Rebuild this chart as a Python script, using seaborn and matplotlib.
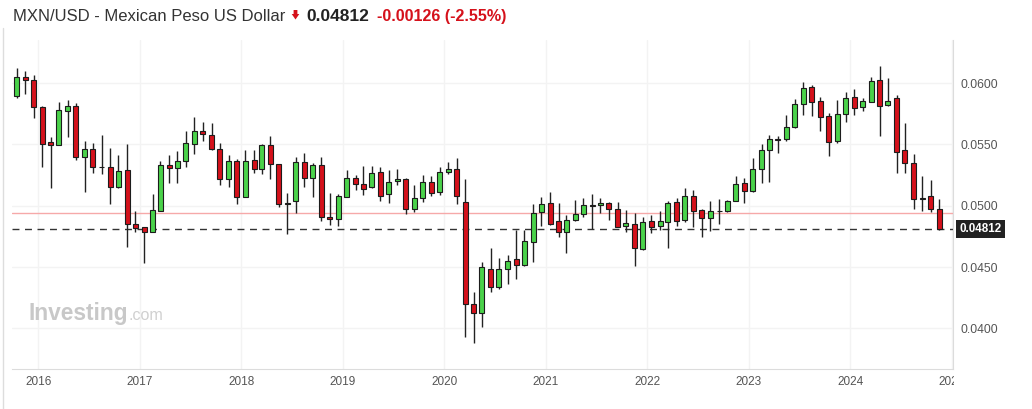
import matplotlib
matplotlib.use("Agg")
import matplotlib.pyplot as plt
import matplotlib.transforms as mtransforms
from matplotlib.patches import Polygon, Rectangle
from matplotlib.lines import Line2D
import pandas as pd
import seaborn as sns

# monthly candles, Oct 2015 .. Nov 2024 (MXN/USD)
first_month = "2015-10-01"
opens = [0.05899, 0.06049, 0.06024, 0.05809, 0.05521, 0.05499, 0.05776, 0.05815, 0.05401, 0.05464,
         0.05320, 0.05314, 0.05151, 0.05292, 0.04849, 0.04824, 0.04789, 0.04960, 0.05331, 0.05306,
         0.05363, 0.05500, 0.05608, 0.05580, 0.05466, 0.05216, 0.05363, 0.05074, 0.05374, 0.05298,
         0.05494, 0.05339, 0.05012, 0.05042, 0.05355, 0.05229, 0.05330, 0.04906, 0.04890, 0.05074,
         0.05224, 0.05176, 0.05151, 0.05273, 0.05094, 0.05200, 0.05216, 0.04976, 0.05061, 0.05192,
         0.05110, 0.05273, 0.05298, 0.05029, 0.04201, 0.04127, 0.04482, 0.04340, 0.04482, 0.04566,
         0.04514, 0.04702, 0.04947, 0.05020, 0.04873, 0.04784, 0.04882, 0.04931, 0.05006, 0.05004,
         0.05020, 0.04971, 0.04838, 0.04849, 0.04647, 0.04873, 0.04837, 0.04870, 0.05029, 0.04884,
         0.05080, 0.04963, 0.04898, 0.04955, 0.04955, 0.05039, 0.05184, 0.05123, 0.05298, 0.05456,
         0.05543, 0.05548, 0.05646, 0.05831, 0.05967, 0.05858, 0.05733, 0.05531, 0.05747, 0.05886,
         0.05804, 0.05850, 0.06027, 0.05823, 0.05878, 0.05456, 0.05352, 0.05058, 0.05080, 0.04976]
highs = [0.06122, 0.06103, 0.06068, 0.05812, 0.05559, 0.05847, 0.05864, 0.05837, 0.05531, 0.05510,
         0.05578, 0.05474, 0.05415, 0.05500, 0.04955, 0.04826, 0.05096, 0.05366, 0.05415, 0.05447,
         0.05613, 0.05722, 0.05684, 0.05673, 0.05510, 0.05412, 0.05380, 0.05456, 0.05456, 0.05504,
         0.05570, 0.05342, 0.05102, 0.05401, 0.05429, 0.05347, 0.05396, 0.05102, 0.05096, 0.05292,
         0.05249, 0.05325, 0.05325, 0.05319, 0.05292, 0.05300, 0.05224, 0.05170, 0.05251, 0.05243,
         0.05314, 0.05357, 0.05388, 0.05219, 0.04294, 0.04541, 0.04653, 0.04571, 0.04598, 0.04802,
         0.04802, 0.05015, 0.05074, 0.05110, 0.05020, 0.04925, 0.05047, 0.05064, 0.05096, 0.05060,
         0.05033, 0.05029, 0.04966, 0.04939, 0.04911, 0.04925, 0.04958, 0.05039, 0.05066, 0.05143,
         0.05129, 0.04971, 0.05039, 0.05055, 0.05047, 0.05243, 0.05224, 0.05388, 0.05504, 0.05576,
         0.05570, 0.05741, 0.05869, 0.06011, 0.05989, 0.05886, 0.05755, 0.05864, 0.05931, 0.05951,
         0.05882, 0.06049, 0.06144, 0.06041, 0.05904, 0.05678, 0.05423, 0.05243, 0.05211, 0.05056]
lows = [0.05878, 0.05910, 0.05719, 0.05314, 0.05143, 0.05495, 0.05564, 0.05374, 0.05115, 0.05270,
        0.05260, 0.05015, 0.05148, 0.04666, 0.04789, 0.04536, 0.04786, 0.04958, 0.05184, 0.05189,
        0.05314, 0.05423, 0.05531, 0.05456, 0.05172, 0.05156, 0.05015, 0.05070, 0.05270, 0.05260,
        0.05221, 0.04988, 0.04767, 0.04939, 0.05156, 0.05074, 0.04878, 0.04843, 0.04838, 0.05070,
        0.05129, 0.05088, 0.05148, 0.05042, 0.05025, 0.05167, 0.04933, 0.04949, 0.05033, 0.05082,
        0.05088, 0.05257, 0.05015, 0.03926, 0.03878, 0.04013, 0.04299, 0.04321, 0.04359, 0.04405,
        0.04510, 0.04544, 0.04835, 0.04840, 0.04748, 0.04617, 0.04878, 0.04911, 0.04811, 0.04939,
        0.04884, 0.04825, 0.04784, 0.04511, 0.04640, 0.04780, 0.04802, 0.04658, 0.04837, 0.04870,
        0.04829, 0.04748, 0.04797, 0.04851, 0.04950, 0.05035, 0.05020, 0.05115, 0.05184, 0.05197,
        0.05429, 0.05531, 0.05633, 0.05741, 0.05736, 0.05610, 0.05407, 0.05515, 0.05687, 0.05741,
        0.05776, 0.05846, 0.05572, 0.05817, 0.05265, 0.05270, 0.04971, 0.04960, 0.04952, 0.04805]
closes = [0.06049, 0.06024, 0.05809, 0.05507, 0.05499, 0.05780, 0.05815, 0.05401, 0.05464, 0.05319,
          0.05314, 0.05151, 0.05287, 0.04851, 0.04816, 0.04789, 0.04963, 0.05331, 0.05306, 0.05363,
          0.05510, 0.05608, 0.05586, 0.05466, 0.05216, 0.05363, 0.05074, 0.05363, 0.05298, 0.05494,
          0.05339, 0.05012, 0.05020, 0.05355, 0.05224, 0.05330, 0.04906, 0.04890, 0.05080, 0.05224,
          0.05176, 0.05135, 0.05265, 0.05082, 0.05192, 0.05216, 0.04971, 0.05061, 0.05192, 0.05102,
          0.05273, 0.05298, 0.05082, 0.04201, 0.04122, 0.04498, 0.04335, 0.04482, 0.04552, 0.04514,
          0.04713, 0.04939, 0.05012, 0.04849, 0.04784, 0.04882, 0.04931, 0.05006, 0.05000, 0.05020,
          0.04971, 0.04829, 0.04857, 0.04653, 0.04865, 0.04829, 0.04876, 0.05025, 0.04878, 0.05080,
          0.04960, 0.04898, 0.04955, 0.04957, 0.05039, 0.05178, 0.05118, 0.05298, 0.05456, 0.05543,
          0.05540, 0.05641, 0.05831, 0.05959, 0.05850, 0.05727, 0.05523, 0.05747, 0.05878, 0.05796,
          0.05855, 0.06021, 0.05817, 0.05855, 0.05442, 0.05352, 0.05058, 0.05066, 0.04976, 0.04812]

last_price = 0.04812
prev_close = 0.04938
change = "-0.00126 (-2.55%)"
y_ticks = [0.0400, 0.0450, 0.0500, 0.0550, 0.0600]
years = list(range(2016, 2026))

UP = "#4ad24a"
DOWN = "#d5111b"

sns.set_style("white")
plt.rcParams["font.family"] = ["Liberation Sans", "DejaVu Sans"]

df = pd.DataFrame({"open": opens, "high": highs, "low": lows, "close": closes})
df["date"] = pd.date_range(first_month, periods=len(df), freq="MS") + pd.Timedelta(days=15)

W, H = 1032, 409
fig = plt.figure(figsize=(W / 100, H / 100), dpi=100)
ax = fig.add_axes([12.3 / W, 1 - 369.3 / H, (953.3 - 12.3) / W, (369.3 - 40) / H])

# candles
body = (df["close"] - df["open"]).where(lambda s: s.abs() > 0.00001, 0.00001)
colors = [UP if c >= o else DOWN for o, c in zip(df["open"], df["close"])]
ax.vlines(df["date"], df["low"], df["high"], color="#222222", lw=1, zorder=3)
ax.bar(df["date"], body, bottom=df["open"], width=18, color=colors,
       edgecolor="#1c1c1c", linewidth=0.8, zorder=4)

# previous close and last price lines
ax.axhline(prev_close, color="#f6a9a9", lw=1, zorder=2)
ax.axhline(last_price, color="#333333", lw=1, ls=(0, (5, 4)), zorder=2)

ax.set_xlim(pd.Timestamp("2015-09-30"), pd.Timestamp("2025-01-06"))
ax.set_ylim(0.03665, 0.06353)

ax.set_xticks([pd.Timestamp(f"{y}-01-01") for y in years])
ax.set_xticklabels([str(y) for y in years])
ax.yaxis.tick_right()
ax.set_yticks(y_ticks)
ax.set_yticklabels([f"{v:.4f}" for v in y_ticks])
ax.tick_params(axis="x", length=0, pad=5, labelsize=8.5, labelcolor="#555555")
ax.tick_params(axis="y", length=0, pad=5, labelsize=8.7, labelcolor="#555555")
ax.grid(True, color="#f3f3f3", lw=1)
ax.set_axisbelow(True)
for side in ["top", "left"]:
    ax.spines[side].set_visible(False)
for side in ["bottom", "right"]:
    ax.spines[side].set_color("#dcdcdc")

# last price tag on the axis
trans = mtransforms.blended_transform_factory(ax.transAxes, ax.transData)
ax.annotate(f"{last_price:.5f}", xy=(1, last_price), xycoords=trans, xytext=(4.5, 0),
            textcoords="offset points", ha="left", va="center", color="white",
            fontsize=8.4, fontweight="bold",
            bbox=dict(boxstyle="square,pad=0.28", fc="#222222", ec="none"), annotation_clip=False)

# hide the tail of the clipped "2025" label
fig.add_artist(Rectangle((954 / W, 0), (W - 954) / W, (H - 371) / H,
                         transform=fig.transFigure, fc="white", ec="none", zorder=5))
fig.add_artist(Line2D([3 / W, 3 / W], [0, 1 - 28 / H], color="#dddddd", lw=1))

# watermark
fig.text(28.5 / W, 1 - 320 / H, "Investing", fontsize=16.4, fontweight="bold",
         color="#c8c8c8", va="baseline")
fig.text(129 / W, 1 - 320 / H, ".com", fontsize=11.6, color="#d0d0d0", va="baseline")

# header
base = 1 - 20.7 / H
fig.text(13.3 / W, base, "MXN/USD - Mexican Peso US Dollar", fontsize=12, color="#333333",
         va="baseline")
arrow = [(293.6, 10), (297.4, 10), (297.4, 14), (299.3, 14), (295.5, 19.5), (291.7, 14), (293.6, 14)]
fig.add_artist(Polygon([(x / W, 1 - y / H) for x, y in arrow], closed=True,
                       transform=fig.transFigure, fc=DOWN, ec="none"))
fig.text(306.7 / W, base, f"{last_price:.5f}", fontsize=12.5, fontweight="bold",
         color="#222222", va="baseline")
fig.text(376.7 / W, base, change, fontsize=11.6, fontweight="bold", color=DOWN, va="baseline")

fig.savefig("out.png", dpi=100, facecolor="white")
